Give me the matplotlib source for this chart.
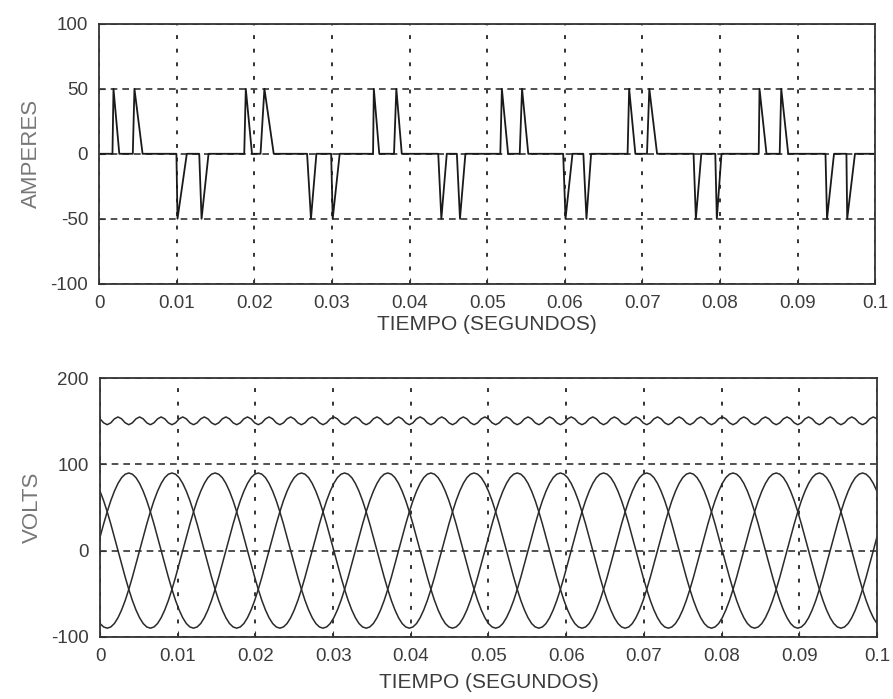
import numpy as np
import matplotlib
matplotlib.use("Agg")
import matplotlib.pyplot as plt

plt.rcParams["font.family"] = ["Liberation Sans", "DejaVu Sans"]
plt.rcParams["axes.unicode_minus"] = False

# --- current pulses (ms): start of edge, peak, back to zero ---
pos_start = [1.72, 4.34, 18.7, 20.8, 35.3, 38.0, 51.7, 54.2, 68.1, 70.6, 85.0, 87.7]
pos_peak = [1.85, 4.55, 18.9, 21.3, 35.4, 38.3, 51.9, 54.5, 68.3, 70.9, 85.1, 87.9]
pos_end = [2.60, 5.60, 19.7, 22.5, 36.1, 39.0, 52.7, 55.3, 69.1, 71.9, 86.0, 88.8]
neg_start = [9.96, 12.9, 26.8, 29.9, 43.7, 46.1, 59.8, 62.4, 76.6, 79.4, 93.6, 96.3]
neg_peak = [10.1, 13.2, 27.3, 30.1, 44.1, 46.5, 60.1, 62.8, 76.9, 79.6, 93.8, 96.4]
neg_end = [11.3, 14.1, 28.0, 31.0, 44.8, 47.2, 61.0, 63.4, 77.6, 80.2, 94.7, 97.4]
pulse_amp = 50.0

# --- phase voltage, one 60 Hz cycle read every 10 degrees (V) ---
va_cycle = [15.6, 30.8, 45.0, 57.9, 68.9, 77.9, 84.6, 88.6, 90.0, 88.6, 84.6, 77.9,
            68.9, 57.9, 45.0, 30.8, 15.6, 0.0, -15.6, -30.8, -45.0, -57.9, -68.9, -77.9,
            -84.6, -88.6, -90.0, -88.6, -84.6, -77.9, -68.9, -57.9, -45.0, -30.8, -15.6, 0.0]
n_cycles = 6
# --- rectified output, one ripple period (every 10 degrees) ---
vdc_ripple = [152.8, 148.2, 146.0, 148.2, 152.8, 155.0]

xticks = [0, 0.01, 0.02, 0.03, 0.04, 0.05, 0.06, 0.07, 0.08, 0.09, 0.1]
xtick_labels = ["0", "0.01", "0.02", "0.03", "0.04", "0.05", "0.06", "0.07", "0.08", "0.09", "0.1"]

# build current trace
pulses = [(s, p, e, pulse_amp) for s, p, e in zip(pos_start, pos_peak, pos_end)]
pulses += [(s, p, e, -pulse_amp) for s, p, e in zip(neg_start, neg_peak, neg_end)]
pulses.sort()
t_i = [0.0]
i_vals = [0.0]
for s, p, e, h in pulses:
    t_i += [s / 1000, p / 1000, e / 1000]
    i_vals += [0.0, h, 0.0]
t_i.append(0.1)
i_vals.append(0.0)

# build voltage traces
va = np.array(va_cycle)
vb = np.roll(va, 12)
vc = np.roll(va, -12)
n_pts = len(va_cycle) * n_cycles + 1
t_v = np.linspace(0, 0.1, n_pts)
phases = [np.r_[np.tile(v, n_cycles), v[0]] for v in (va, vb, vc)]
vdc = np.r_[np.tile(vdc_ripple, n_pts // len(vdc_ripple)), vdc_ripple[0]]

fig = plt.figure(figsize=(8.93, 6.99), dpi=100)
ax1 = fig.add_axes([0.111, 0.594, 0.869, 0.372])
ax2 = fig.add_axes([0.112, 0.089, 0.870, 0.370])

txt = "#3c3c3c"
for ax in (ax1, ax2):
    ax.set_axisbelow(True)
    ax.xaxis.grid(True, linestyle=(0, (2, 5)), linewidth=1.4, color="#333333")
    ax.yaxis.grid(True, linestyle=(0, (4, 3)), linewidth=1.2, color="#333333")
    ax.set_xlim(0, 0.1)
    ax.set_xticks(xticks)
    ax.set_xticklabels(xtick_labels)
    ax.tick_params(direction="in", length=4, labelsize=13.5, labelcolor=txt, color="#333333", pad=8)
    for sp in ax.spines.values():
        sp.set_linewidth(1.3)
        sp.set_color("#333333")

ax1.plot(t_i, i_vals, color="#1a1a1a", linewidth=1.3)
ax1.set_ylim(-100, 100)
ax1.set_yticks([-100, -50, 0, 50, 100])
ax1.set_ylabel("AMPERES", fontsize=16, color="#777777", labelpad=6)
ax1.set_xlabel("TIEMPO (SEGUNDOS)", fontsize=15, color=txt, labelpad=2)

for v in phases:
    ax2.plot(t_v, v, color="#2a2a2a", linewidth=1.1)
ax2.plot(t_v, vdc, color="#2a2a2a", linewidth=1.1)
ax2.set_ylim(-100, 200)
ax2.set_yticks([-100, 0, 100, 200])
ax2.set_ylabel("VOLTS", fontsize=16, color="#777777", labelpad=6)
ax2.set_xlabel("TIEMPO (SEGUNDOS)", fontsize=15, color=txt, labelpad=6)

fig.savefig("out.png", dpi=100)
